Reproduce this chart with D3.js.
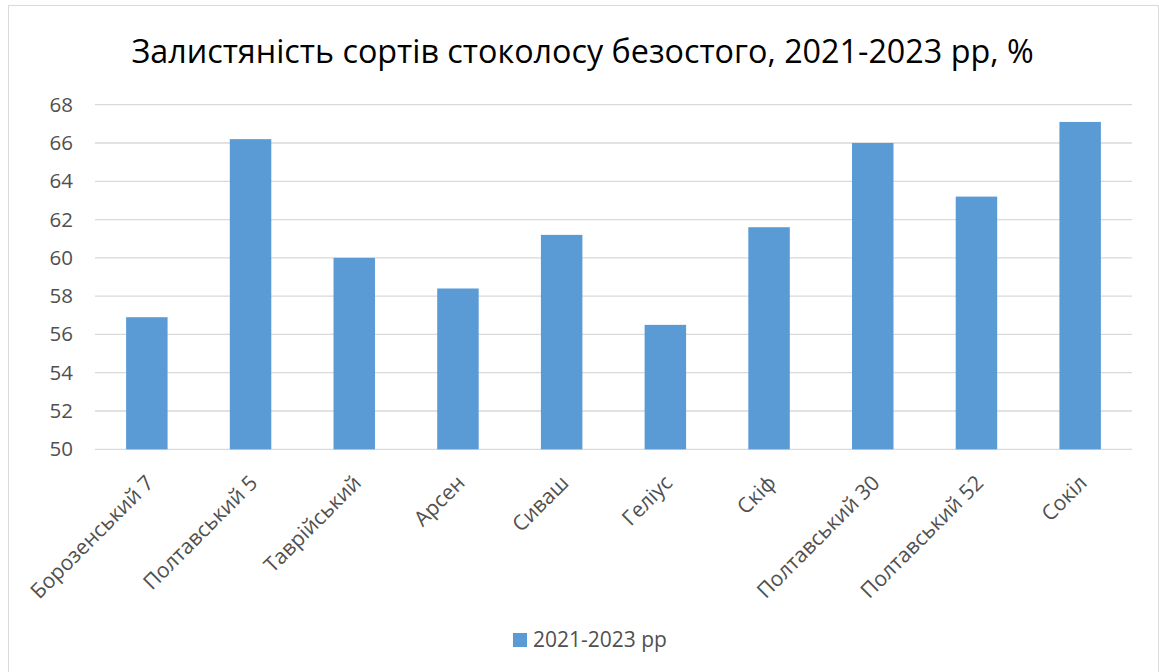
<!DOCTYPE html>
<html>
  <head>
	<meta charset="utf-8">
	<title>Залистяність</title>
	<script src="https://d3js.org/d3.v7.min.js"></script>
	<style>
		body { margin: 0; background: #fff; }
		.axis text { font-family: "Open Sans", sans-serif; fill: #505050; }
	</style>
  </head>
  <body>
	<svg id="chart"></svg>
	<script type="text/javascript">
		var categories = ["Борозенський 7", "Полтавський 5", "Таврійський", "Арсен", "Сиваш",
			"Геліус", "Скіф", "Полтавський 30", "Полтавський 52", "Сокіл"];
		var values = [56.9, 66.2, 60.0, 58.4, 61.2, 56.5, 61.6, 66.0, 63.2, 67.1];
		var yTicks = [50, 52, 54, 56, 58, 60, 62, 64, 66, 68];
		var seriesName = "2021-2023 рр";
		var title = "Залистяність сортів стоколосу безостого, 2021-2023 рр, %";

		var width = 1159, height = 672;
		var plot = {left: 95, right: 1132, top: 104.7, bottom: 449.3};
		var barColor = "#5b9bd5";

		var svg = d3.select("#chart")
			.attr("width", width)
			.attr("height", height);

		svg.append("rect")
			.attr("x", 8.5).attr("y", 5.5)
			.attr("width", 1150).attr("height", 700)
			.attr("fill", "#fff")
			.attr("stroke", "#d9d9d9");

		var x = d3.scaleBand()
			.domain(categories)
			.range([plot.left, plot.right])
			.paddingInner(0.6)
			.paddingOuter(0.3);

		var y = d3.scaleLinear()
			.domain([50, 68])
			.range([plot.bottom, plot.top]);

		// gridlines
		svg.append("g")
			.selectAll("line")
			.data(yTicks)
			.enter().append("line")
			.attr("x1", plot.left).attr("x2", plot.right)
			.attr("y1", function(d) { return y(d); })
			.attr("y2", function(d) { return y(d); })
			.attr("stroke", "#d9d9d9")
			.attr("stroke-width", 1.3);

		// y labels
		var yAxis = svg.append("g")
			.attr("class", "axis")
			.attr("transform", "translate(" + (plot.left - 22) + ",0)")
			.call(d3.axisLeft(y).tickValues(yTicks).tickSize(0).tickPadding(0));
		yAxis.select(".domain").remove();
		yAxis.selectAll("text").attr("font-size", 20.5);

		// bars
		svg.append("g")
			.selectAll("rect")
			.data(values)
			.enter().append("rect")
			.attr("x", function(d, i) { return x(categories[i]); })
			.attr("y", function(d) { return y(d); })
			.attr("width", x.bandwidth())
			.attr("height", function(d) { return y(50) - y(d); })
			.attr("fill", barColor);

		// x labels
		svg.append("g")
			.attr("class", "axis")
			.selectAll("text")
			.data(categories)
			.enter().append("text")
			.attr("transform", function(d) {
				return "translate(" + (x(d) + x.bandwidth() / 2 + 3) + "," + 479 + ") rotate(-45)";
			})
			.attr("text-anchor", "end")
			.attr("dy", "0.35em")
			.attr("font-size", 21)
			.text(function(d) { return d; });

		// title
		svg.append("text")
			.attr("x", 582.5)
			.attr("y", 63)
			.attr("text-anchor", "middle")
			.attr("font-family", "'Open Sans', sans-serif")
			.attr("font-size", 32.3)
			.attr("fill", "#000")
			.text(title);

		// legend
		var legend = svg.append("g").attr("class", "axis");
		legend.append("rect")
			.attr("x", 513).attr("y", 633)
			.attr("width", 14).attr("height", 14)
			.attr("fill", barColor);
		legend.append("text")
			.attr("x", 533).attr("y", 647)
			.attr("font-size", 21)
			.text(seriesName);
	</script>
  </body>
</html>
